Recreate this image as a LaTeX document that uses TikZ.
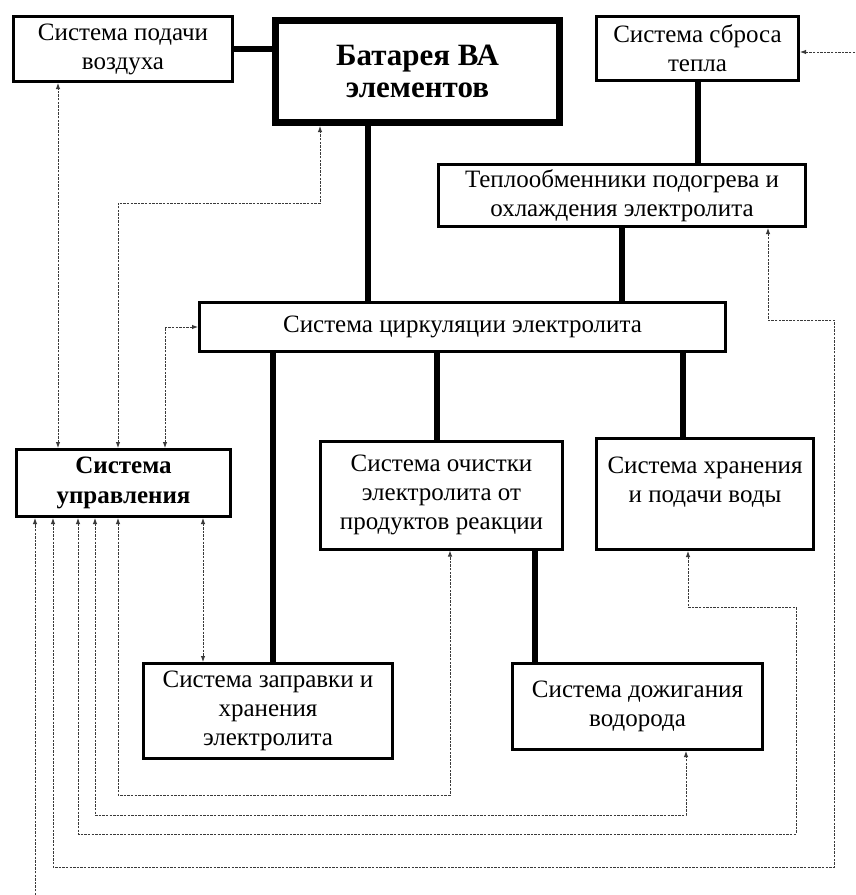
\documentclass[tikz,border=0pt]{standalone}
\usepackage{fontspec}
\setmainfont{Liberation Serif}
\usepackage{tikz}
\usetikzlibrary{arrows.meta,calc}
\definecolor{signal}{HTML}{3A3A3A}
\tikzset{
  unit/.style={
    draw=black,
    line width=3pt,
    fill=white,
    align=center,
    inner sep=2pt,
    outer sep=1.5pt,
    font=\fontsize{25}{29}\selectfont
  },
  core/.style={line width=7pt, outer sep=3.5pt, font=\bfseries\fontsize{31}{32}\selectfont},
  control/.style={font=\bfseries\fontsize{25}{30}\selectfont},
  pipe/.style={line width=6pt, draw=black},
  signalline/.style={line width=0.9pt, draw=signal, dash pattern=on 2.4pt off 1.2pt,
    {Latex[length=6pt,width=4.5pt]}-{Latex[length=6pt,width=4.5pt]}},
  oneway/.style={line width=0.9pt, draw=signal, dash pattern=on 2.4pt off 1.2pt,
    -{Latex[length=6pt,width=4.5pt]}}
}

\begin{document}
\begin{tikzpicture}[x=1pt,y=-1pt]
\useasboundingbox (0,0) rectangle (855,895);
\fill[white] (0,0) rectangle (855,895);

% upper row
\node[unit, minimum width=219, minimum height=65] (air) at (123,49) {Система подачи\\воздуха};
\node[unit, core, minimum width=284, minimum height=102] (batt) at (417.5,71.5) {Батарея ВА\\элементов};
\node[unit, minimum width=202, minimum height=64] (sbros) at (697.5,48.5) {Система сброса\\тепла};
\node[unit, minimum width=367, minimum height=62] (teplo) at (622,195.5) {Теплообменники подогрева и\\охлаждения электролита};
\node[unit, minimum width=526, minimum height=49] (circ) at (462.5,327) {Система циркуляции электролита};

% middle row
\node[unit, control, minimum width=214, minimum height=67] (ctrl) at (123.5,483) {Система\\управления};
\node[unit, minimum width=242, minimum height=108] (clean) at (441.5,495) {Система очистки\\электролита от\\продуктов реакции};
\node[unit, minimum width=217, minimum height=111] (water) at (705,494) {Система хранения\\и подачи воды\\\mbox{}};

% lower row
\node[unit, minimum width=249, minimum height=95] (fill) at (268,711) {Система заправки и\\хранения\\электролита};
\node[unit, minimum width=250, minimum height=86] (burn) at (637.5,706.5) {Система дожигания\\водорода};

\coordinate (heatin) at (855,52);
\coordinate (ctrlout) at (35,895);

% thick links
\draw[pipe] (air.east) -- (air.east -| batt.west);
\draw[pipe] (batt.south -| 368,0) -- (circ.north -| 368,0);
\draw[pipe] (sbros.south) -- (teplo.north -| sbros.south);
\draw[pipe] (teplo.south) -- (circ.north -| teplo.south);
\draw[pipe] (circ.south -| 273,0) -- (fill.north -| 273,0);
\draw[pipe] (circ.south -| 437,0) -- (clean.north -| 437,0);
\draw[pipe] (circ.south -| 683,0) -- (water.north -| 683,0);
\draw[pipe] (clean.south -| 535,0) -- (burn.north -| 535,0);

% control signals
\draw[signalline] (ctrl.north -| 58,0) -- (air.south -| 58,0);
\draw[signalline] (ctrl.north -| 118,0) -- (118,203) -- (320,203) -- (batt.south -| 320,0);
\draw[signalline] (ctrl.north -| 165,0) |- (circ.west);
\draw[signalline] (ctrl.south -| 203,0) -- (fill.north -| 203,0);
\draw[signalline] (ctrl.south -| 118,0) -- (118,795) -- (450,795) -- (clean.south -| 450,0);
\draw[signalline] (ctrl.south -| 95,0) -- (95,815) -- (686,815) -- (burn.south -| 686,0);
\draw[signalline] (ctrl.south -| 78,0) -- (78,834) -- (796,834) -- (796,607) -- (688,607) -- (water.south -| 688,0);
\draw[signalline] (ctrl.south -| 53,0) -- (53,867) -- (834,867) -- (834,320) -- (768,320) -- (teplo.south -| 768,0);
\draw[oneway] (ctrlout) -- (ctrl.south -| ctrlout);
\draw[oneway] (heatin) -- (heatin -| sbros.east);

\end{tikzpicture}
\end{document}
